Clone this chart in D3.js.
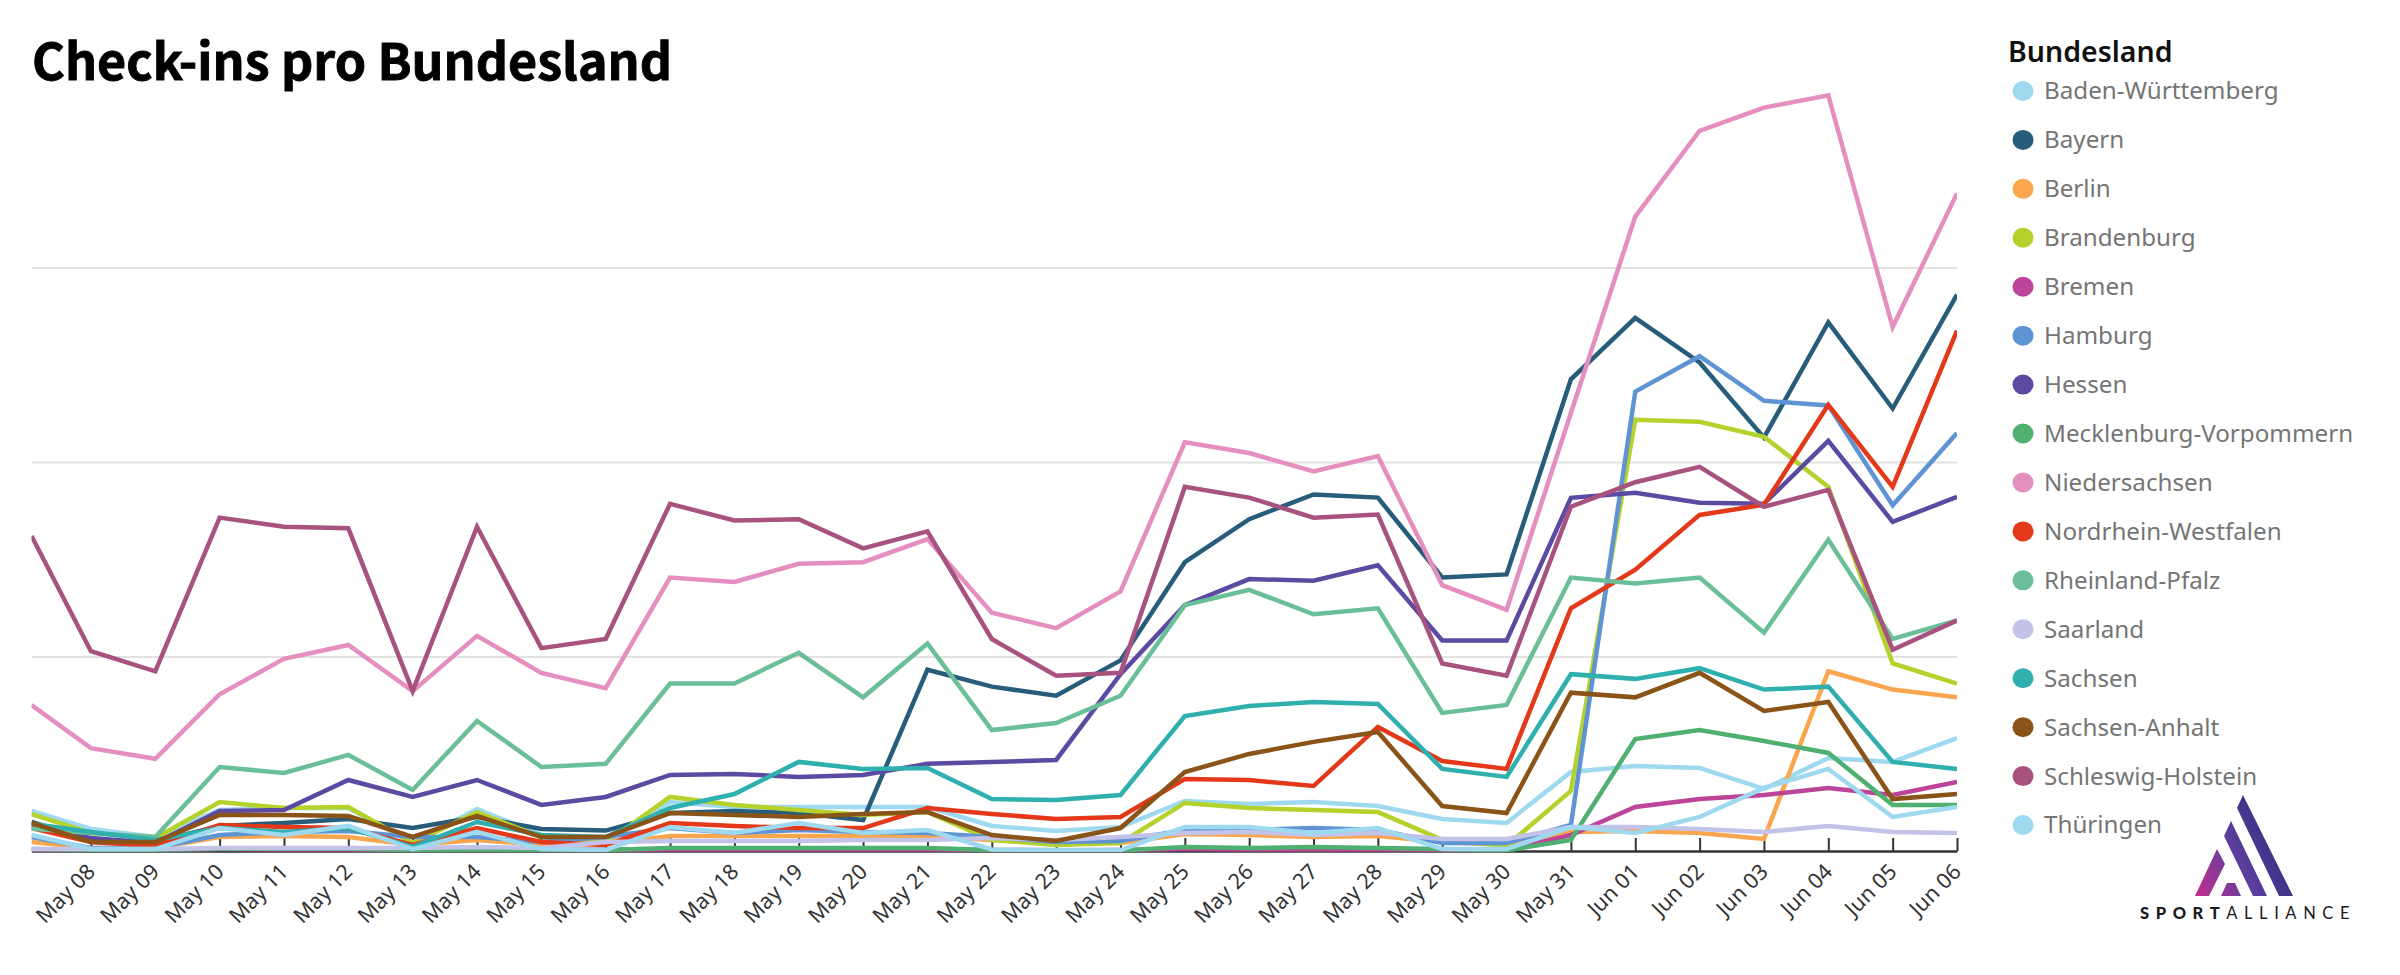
<!DOCTYPE html>
<html>
<head>
<meta charset="utf-8">
<title>Check-ins pro Bundesland</title>
<script src="https://cdnjs.cloudflare.com/ajax/libs/d3/7.8.5/d3.min.js"></script>
<style>
  html, body { margin: 0; padding: 0; background: #fff; }
  svg { display: block; }
  .title { font-family: "Noto Sans CJK SC", "Noto Sans", sans-serif; font-weight: 700; font-size: 50.2px; fill: #000; stroke: #000; stroke-width: 0.9px; }
  .legend-title { font-family: "Noto Sans", sans-serif; font-weight: 600; font-size: 28.5px; fill: #111; }
  .legend-label { font-family: "Noto Sans", sans-serif; font-size: 24.2px; fill: #757575; }
  .x-axis text { font-family: "Noto Sans", sans-serif; font-size: 21.5px; fill: #333; }
  .logo-text { font-family: "Lato", "Noto Sans", sans-serif; font-size: 16.5px; letter-spacing: 6.6px; fill: #1b1b1f; }
</style>
</head>
<body>
<div class="chart"></div>
<script>
// dates: the first point sits a little after midnight, so it is cut off by the plot edge
var dates = ["2022-05-07 01:50","2022-05-08 00:00","2022-05-09 00:00","2022-05-10 00:00","2022-05-11 00:00","2022-05-12 00:00","2022-05-13 00:00","2022-05-14 00:00","2022-05-15 00:00","2022-05-16 00:00","2022-05-17 00:00","2022-05-18 00:00","2022-05-19 00:00","2022-05-20 00:00","2022-05-21 00:00","2022-05-22 00:00","2022-05-23 00:00","2022-05-24 00:00","2022-05-25 00:00","2022-05-26 00:00","2022-05-27 00:00","2022-05-28 00:00","2022-05-29 00:00","2022-05-30 00:00","2022-05-31 00:00","2022-06-01 00:00","2022-06-02 00:00","2022-06-03 00:00","2022-06-04 00:00","2022-06-05 00:00","2022-06-06 00:00"];

var states = ["Baden-Württemberg","Bayern","Berlin","Brandenburg","Bremen","Hamburg","Hessen","Mecklenburg-Vorpommern","Niedersachsen","Nordrhein-Westfalen","Rheinland-Pfalz","Saarland","Sachsen","Sachsen-Anhalt","Schleswig-Holstein","Thüringen"];
var colors = ["#9ed9f0","#275d7a","#f9a64f","#b5d22c","#bc4599","#5f94d4","#5c4aa2","#4fb071","#e58fc0","#e3391a","#6bbf98","#c3c2e8","#2fb0ae","#8a5318","#a8527f","#9ed9f0"];

// no value axis in the picture, so the gridlines are taken as 1000 steps
var gridValues = [1000, 2000, 3000];

var badenWuerttemberg = [206,113,72,211,221,221,41,216,82,57,252,226,226,226,226,129,103,123,257,242,252,231,165,144,406,437,427,319,478,458,581];
var bayern = [149,57,46,129,144,165,118,175,113,105,195,206,195,159,932,845,798,980,1485,1706,1833,1817,1406,1422,2425,2741,2512,2125,2718,2275,2860];
var berlin = [46,15,15,72,77,72,31,57,31,36,77,77,77,77,72,57,41,41,87,82,72,77,46,31,98,103,93,62,924,830,790];
var brandenburg = [190,93,67,252,221,226,41,200,72,41,278,237,211,185,200,57,31,41,247,221,211,200,57,26,309,2217,2207,2130,1872,964,861];
var bremen = [8,6,6,10,8,8,5,6,6,6,8,8,8,8,8,5,4,5,10,8,8,8,6,5,82,226,267,288,324,288,355];
var hamburg = [72,15,15,82,98,103,72,72,46,72,118,93,108,98,93,72,46,51,108,108,118,108,41,41,134,2362,2544,2315,2291,1778,2149];
var hessen = [129,67,41,206,211,365,278,365,237,278,391,396,381,391,448,458,468,909,1264,1398,1390,1469,1082,1082,1816,1842,1790,1785,2109,1692,1821];
var mecklenburg = [10,6,6,12,12,12,5,8,5,5,15,15,15,15,15,5,3,3,21,15,21,15,10,3,57,576,622,566,504,237,237];
var niedersachsen = [750,529,474,806,988,1059,822,1106,916,837,1406,1383,1477,1485,1604,1225,1146,1335,2101,2046,1951,2030,1367,1240,2252,3262,3703,3822,3885,2694,3381];
var nrw = [118,46,26,134,123,118,31,118,46,31,144,129,118,118,221,190,165,175,370,365,334,638,463,422,1248,1446,1728,1780,2294,1872,2675];
var rheinlandPfalz = [115,93,72,432,401,494,314,669,432,448,861,861,1019,790,1067,622,658,798,1264,1343,1217,1248,710,751,1406,1375,1406,1122,1600,1090,1185];
var saarland = [10,10,10,15,15,15,15,21,15,46,51,51,51,57,57,67,57,72,93,98,82,93,62,62,123,123,113,98,129,98,93];
var sachsen = [140,98,57,118,98,118,21,149,82,72,221,293,458,422,427,267,262,288,694,746,766,756,422,381,909,885,940,830,845,458,422];
var sachsenAnhalt = [144,46,46,185,185,180,72,180,72,72,195,185,175,190,200,82,51,118,406,499,561,612,231,195,814,790,916,720,766,267,293];
var schleswigHolstein = [1620,1027,924,1714,1667,1659,822,1667,1043,1090,1785,1699,1706,1556,1643,1090,901,916,1872,1817,1714,1730,964,901,1770,1896,1975,1770,1857,1035,1185];
var thueringen = [82,10,10,118,82,129,10,98,10,5,123,93,144,93,108,8,5,5,123,123,93,118,10,10,123,93,175,324,422,175,226];

var seriesValues = [badenWuerttemberg, bayern, berlin, brandenburg, bremen, hamburg, hessen, mecklenburg, niedersachsen, nrw, rheinlandPfalz, saarland, sachsen, sachsenAnhalt, schleswigHolstein, thueringen];

var svgWidth = 2400;
var svgHeight = 975;
var margin = {top: 73, right: 443, bottom: 124, left: 31.5};
var width = svgWidth - margin.left - margin.right;
var height = svgHeight - margin.top - margin.bottom;

var svg = d3.select(".chart").append("svg")
  .attr("width", svgWidth)
  .attr("height", svgHeight);

var parseDate = d3.utcParse("%Y-%m-%d %H:%M");
var parsedDates = dates.map(parseDate);

var xScale = d3.scaleUtc().domain([parsedDates[0], parsedDates[parsedDates.length - 1]]).range([0, width]);
var yScale = d3.scaleLinear().domain([0, 4000]).range([height, 0]);

svg.append("text").attr("class", "title").attr("x", 32).attr("y", 80).text("Check-ins pro Bundesland");

var chart = svg.append("g").attr("transform", "translate(" + margin.left + "," + margin.top + ")");

// clip so lines at zero and at the plot edges get cut flat
chart.append("clipPath").attr("id", "plot-clip")
  .append("rect").attr("x", 0).attr("y", -10).attr("width", width).attr("height", height + 11);

// gridlines
var yAxis = d3.axisLeft(yScale).tickValues(gridValues).tickSize(-width).tickFormat("");
var yGroup = chart.append("g").call(yAxis);
yGroup.select(".domain").remove();
yGroup.selectAll("line").attr("stroke", "#e2e2e2").attr("stroke-width", 2);

// bottom axis, ticks point up
var xAxis = d3.axisBottom(xScale)
  .tickValues(parsedDates.slice(1))
  .tickFormat(d3.utcFormat("%b %d"))
  .tickSizeInner(-13)
  .tickSizeOuter(0);
var xGroup = chart.append("g").attr("class", "x-axis").attr("transform", "translate(0," + height + ")").call(xAxis);
xGroup.select(".domain").attr("stroke", "#333").attr("stroke-width", 2.5);
xGroup.selectAll("line").attr("stroke", "#333").attr("stroke-width", 2);
xGroup.selectAll("text")
  .attr("text-anchor", "end")
  .attr("dx", 0)
  .attr("dy", 0)
  .attr("x", 5)
  .attr("y", 22)
  .attr("transform", "rotate(-45 5 22)");

// series lines
var line = d3.line()
  .x(function(d, i) { return xScale(parsedDates[i]); })
  .y(function(d) { return yScale(d); });

chart.append("g").attr("clip-path", "url(#plot-clip)")
  .selectAll("path")
  .data(seriesValues)
  .enter()
  .append("path")
  .attr("d", line)
  .attr("fill", "none")
  .attr("stroke", function(d, i) { return colors[i]; })
  .attr("stroke-width", 4.5);

// legend
svg.append("text").attr("class", "legend-title").attr("x", 2008).attr("y", 62).text("Bundesland");

var legendScale = d3.scalePoint().domain(states).range([91, 825]);
var legendRow = svg.append("g").selectAll("g")
  .data(states)
  .enter()
  .append("g")
  .attr("transform", function(d) { return "translate(2023," + legendScale(d) + ")"; });
legendRow.append("ellipse").attr("rx", 10.5).attr("ry", 10).attr("fill", function(d, i) { return colors[i]; });
legendRow.append("text").attr("class", "legend-label").attr("x", 21).attr("dy", "0.35em").text(function(d) { return d; });

// logo
var defs = svg.append("defs");
var gradient = defs.append("linearGradient").attr("id", "logo-gradient")
  .attr("gradientUnits", "userSpaceOnUse")
  .attr("x1", 2195).attr("y1", 896).attr("x2", 2293).attr("y2", 850);
gradient.append("stop").attr("offset", "0%").attr("stop-color", "#c52f8e");
gradient.append("stop").attr("offset", "50%").attr("stop-color", "#5c3f9d");
gradient.append("stop").attr("offset", "100%").attr("stop-color", "#2b2f7e");

var logoShapes = [
  "2243,795 2293,896 2279,896 2237,808",
  "2231,821 2267,896 2253,896 2224,836",
  "2217,849 2225,864 2209,896 2195,896",
  "2227,883 2235,883 2241,896 2221,896"
];
svg.append("g").selectAll("polygon").data(logoShapes).enter().append("polygon")
  .attr("points", function(d) { return d; })
  .attr("fill", "url(#logo-gradient)");

var logoText = svg.append("text").attr("class", "logo-text").attr("x", 2140).attr("y", 919);
logoText.append("tspan").attr("font-weight", 900).text("SPORT");
logoText.append("tspan").text("ALLIANCE");
</script>
</body>
</html>
